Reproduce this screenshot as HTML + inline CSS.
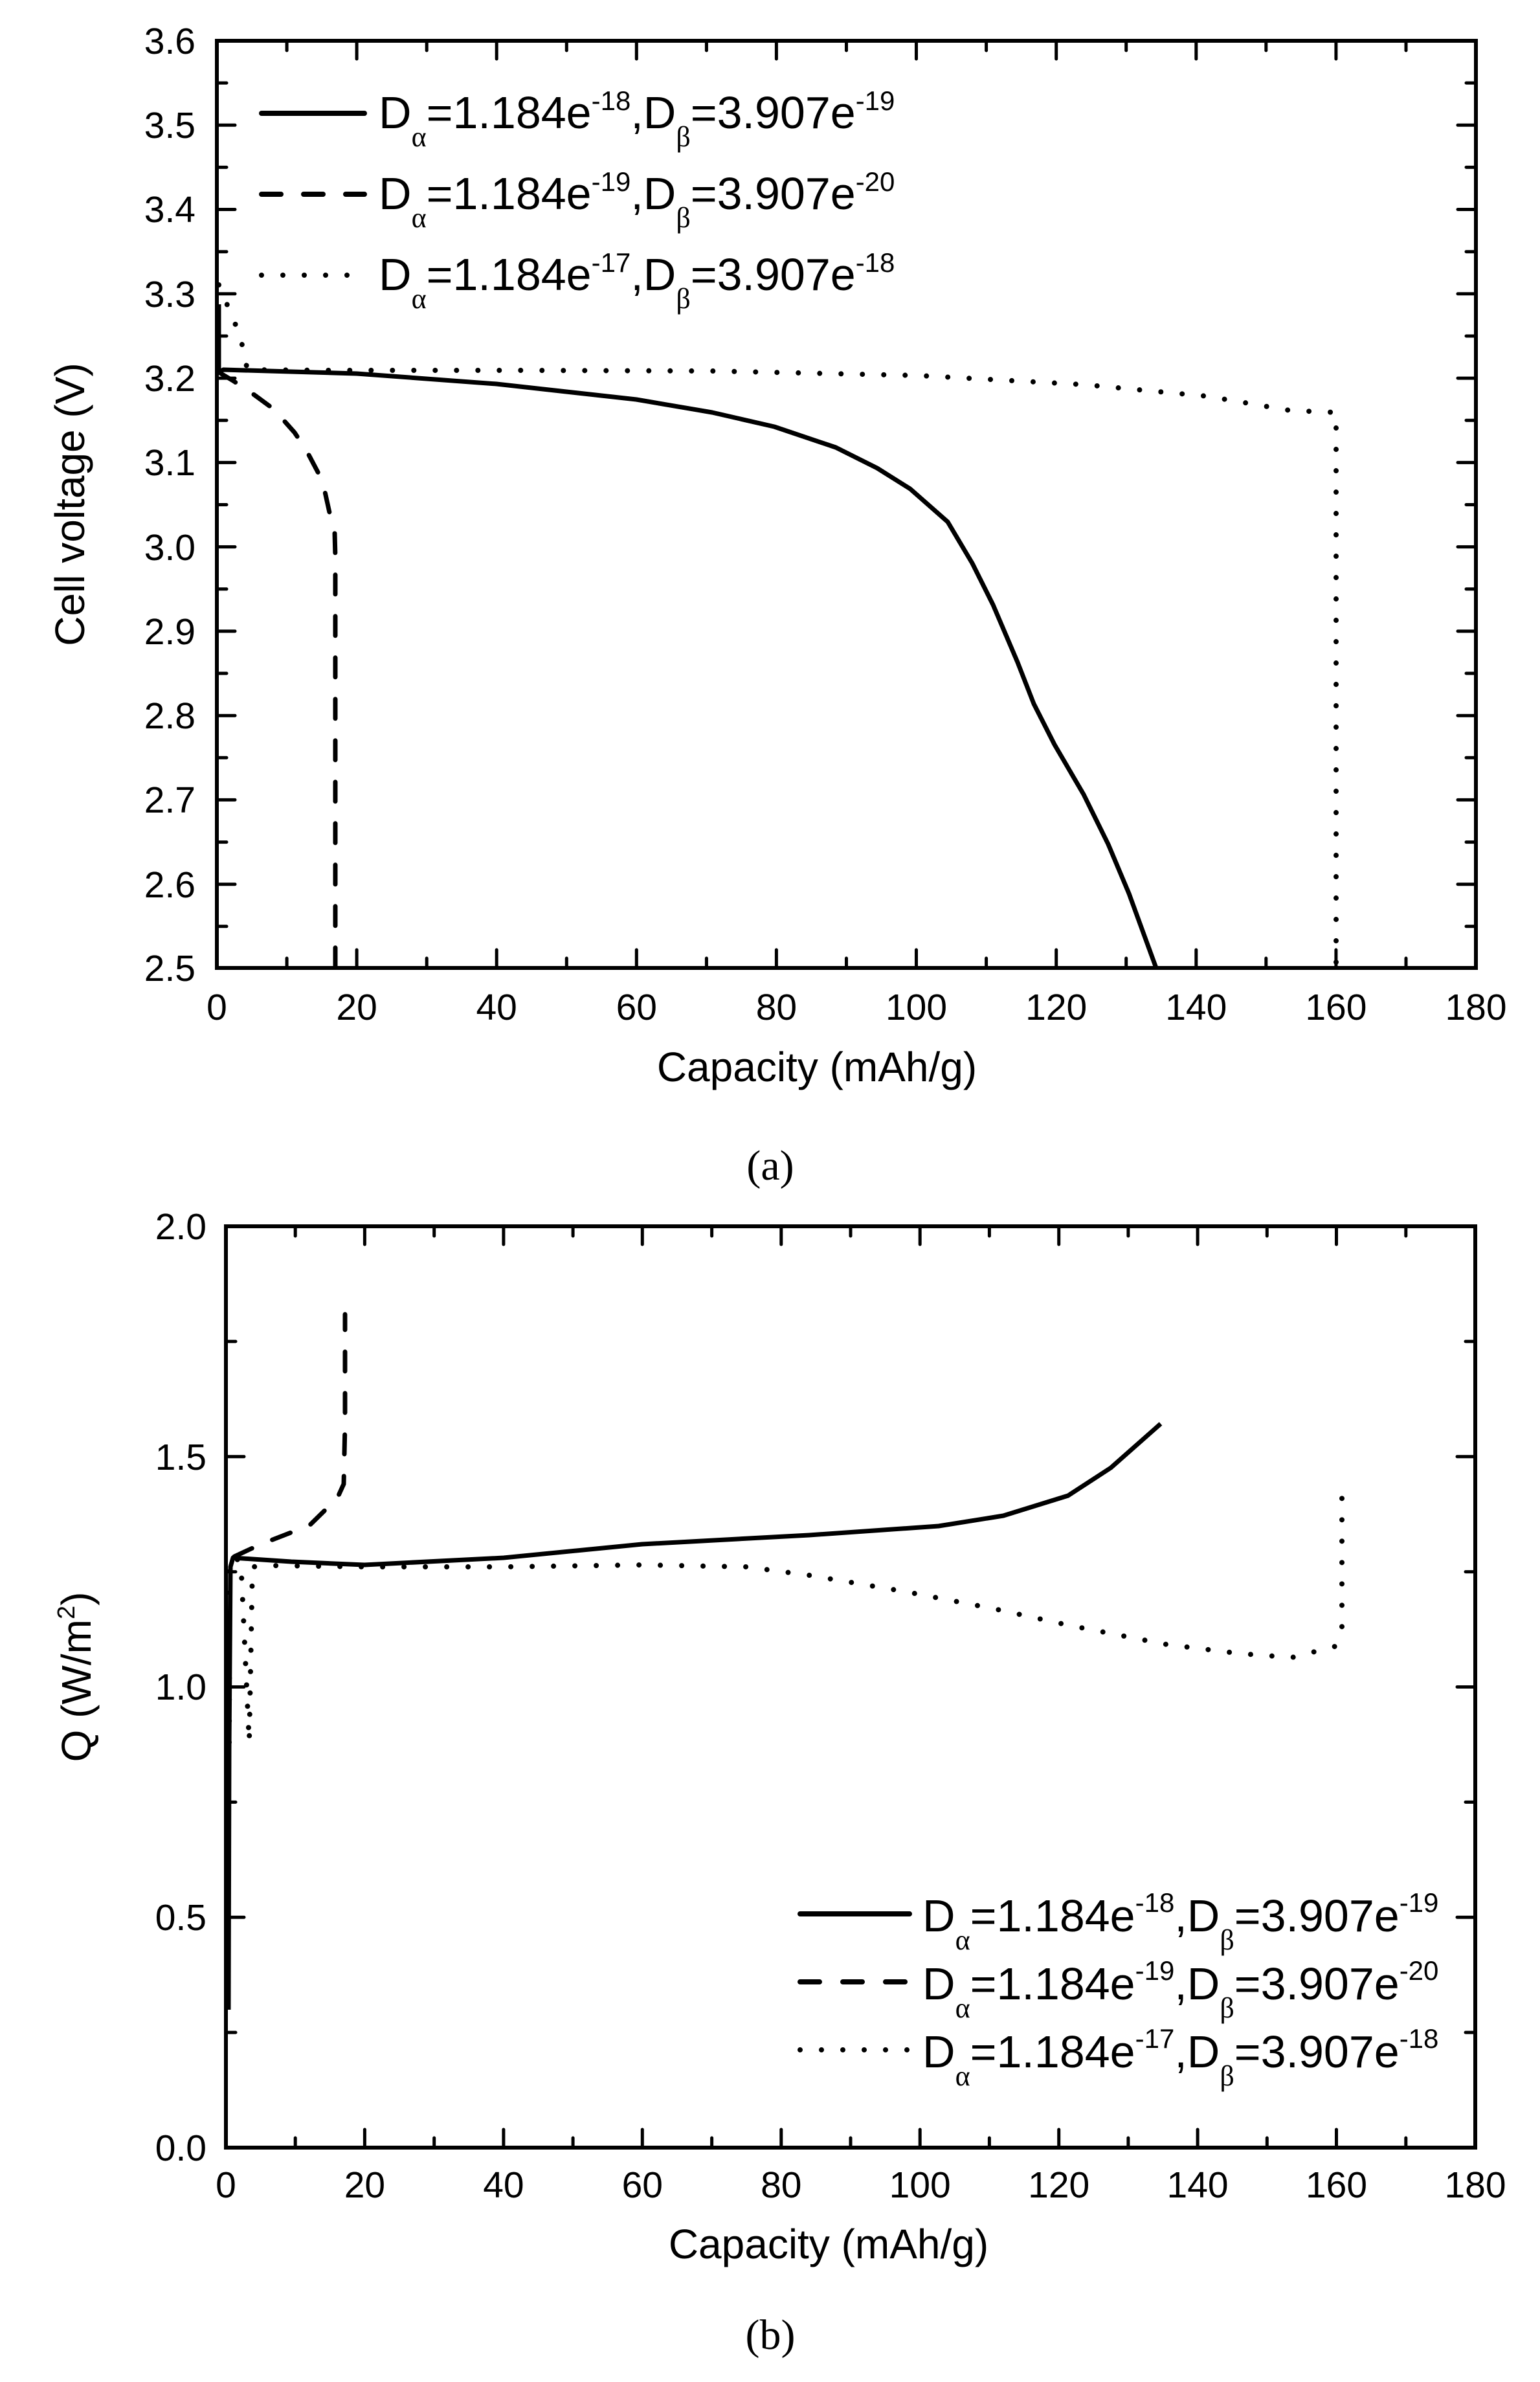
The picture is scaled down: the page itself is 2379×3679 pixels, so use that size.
<!DOCTYPE html>
<html><head><meta charset="utf-8"><style>
html,body{margin:0;padding:0;background:#fff}
svg{display:block}
text{font-family:"Liberation Sans",Arial,sans-serif;fill:#000}
.g{font-family:"Liberation Serif",serif}
</style></head><body>
<svg width="2379" height="3679" viewBox="0 0 2379 3679" xmlns="http://www.w3.org/2000/svg">
<rect width="2379" height="3679" fill="#fff"/>
<!-- ===== TOP PLOT ===== -->
<g stroke="#000" fill="none" stroke-linecap="round">
<rect x="335" y="63" width="1945" height="1432" stroke-width="6" stroke-linecap="butt"/>
<path stroke-width="5" d="
M551.1,1495v-28M767.2,1495v-28M983.3,1495v-28M1199.4,1495v-28M1415.5,1495v-28M1631.7,1495v-28M1847.8,1495v-28M2063.9,1495v-28
M443.1,1495v-15M659.2,1495v-15M875.3,1495v-15M1091.4,1495v-15M1307.5,1495v-15M1523.6,1495v-15M1739.7,1495v-15M1955.8,1495v-15M2172,1495v-15
M551.1,63v28M767.2,63v28M983.3,63v28M1199.4,63v28M1415.5,63v28M1631.7,63v28M1847.8,63v28M2063.9,63v28
M443.1,63v15M659.2,63v15M875.3,63v15M1091.4,63v15M1307.5,63v15M1523.6,63v15M1739.7,63v15M1955.8,63v15M2172,63v15
M335,193.3h28M335,323.5h28M335,453.8h28M335,584.1h28M335,714.4h28M335,844.6h28M335,974.9h28M335,1105.2h28M335,1235.4h28M335,1365.7h28
M335,128.1h15M335,258.4h15M335,388.7h15M335,519h15M335,649.2h15M335,779.5h15M335,909.8h15M335,1040h15M335,1170.3h15M335,1300.6h15M335,1430.8h15
M2280,193.3h-28M2280,323.5h-28M2280,453.8h-28M2280,584.1h-28M2280,714.4h-28M2280,844.6h-28M2280,974.9h-28M2280,1105.2h-28M2280,1235.4h-28M2280,1365.7h-28
M2280,128.1h-15M2280,258.4h-15M2280,388.7h-15M2280,519h-15M2280,649.2h-15M2280,779.5h-15M2280,909.8h-15M2280,1040h-15M2280,1170.3h-15M2280,1300.6h-15M2280,1430.8h-15
"/>
</g>
<g font-size="57" text-anchor="end">
<text x="302" y="83">3.6</text><text x="302" y="213">3.5</text><text x="302" y="343">3.4</text><text x="302" y="474">3.3</text><text x="302" y="604">3.2</text><text x="302" y="734">3.1</text><text x="302" y="865">3.0</text><text x="302" y="995">2.9</text><text x="302" y="1125">2.8</text><text x="302" y="1255">2.7</text><text x="302" y="1386">2.6</text><text x="302" y="1515">2.5</text>
</g>
<g font-size="57" text-anchor="middle">
<text x="335" y="1575">0</text><text x="551.1" y="1575">20</text><text x="767.2" y="1575">40</text><text x="983.3" y="1575">60</text><text x="1199.4" y="1575">80</text><text x="1415.5" y="1575">100</text><text x="1631.7" y="1575">120</text><text x="1847.8" y="1575">140</text><text x="2063.9" y="1575">160</text><text x="2280" y="1575">180</text>
</g>
<text x="1262" y="1670" font-size="64" text-anchor="middle">Capacity (mAh/g)</text>
<text transform="translate(130,779) rotate(-90)" font-size="64" text-anchor="middle">Cell voltage (V)</text>
<text x="1190" y="1822" font-size="66" text-anchor="middle" class="g">(a)</text>
<!-- legend top -->
<g stroke="#000" stroke-width="8" stroke-linecap="round">
<line x1="404" y1="175" x2="563" y2="175"/>
<line x1="404" y1="300" x2="563" y2="300" stroke-dasharray="30 35"/>
<line x1="404" y1="425" x2="563" y2="425" stroke-dasharray="0 33"/>
</g>
<g font-size="70">
<text x="585" y="198">D<tspan class="g" font-size="44" dy="28">α</tspan><tspan dy="-28">=1.184e</tspan><tspan font-size="42" dy="-28">-18</tspan><tspan dy="28">,D</tspan><tspan class="g" font-size="44" dy="28">β</tspan><tspan dy="-28">=3.907e</tspan><tspan font-size="42" dy="-28">-19</tspan></text>
<text x="585" y="323">D<tspan class="g" font-size="44" dy="28">α</tspan><tspan dy="-28">=1.184e</tspan><tspan font-size="42" dy="-28">-19</tspan><tspan dy="28">,D</tspan><tspan class="g" font-size="44" dy="28">β</tspan><tspan dy="-28">=3.907e</tspan><tspan font-size="42" dy="-28">-20</tspan></text>
<text x="585" y="448">D<tspan class="g" font-size="44" dy="28">α</tspan><tspan dy="-28">=1.184e</tspan><tspan font-size="42" dy="-28">-17</tspan><tspan dy="28">,D</tspan><tspan class="g" font-size="44" dy="28">β</tspan><tspan dy="-28">=3.907e</tspan><tspan font-size="42" dy="-28">-18</tspan></text>
</g>
<!-- curves top -->
<g fill="none" stroke="#000" stroke-width="7" stroke-linejoin="round">
<path d="M338,470 L338,575 L345,571 L551,577 L767,593 L983,617 L1100,637 L1196,659 L1291,691 L1355,723 L1406,755 L1464,806 L1502,870 L1534,934 L1572,1023 L1597,1087 L1629,1150 L1674,1227 L1712,1304 L1744,1380 L1786,1495"/>
<path d="M338,575 L360,588 L393,610 L423,632 L455,668 L473,695 L492,731 L502,760 L510,796 L517,823 L518,860 L518,1495" stroke-dasharray="30 34" stroke-linecap="round"/>
<path d="M338,440 L367,509 L375,536 L382,571 L500,572 L800,572 L1100,573 L1419,580 L1674,594 L1865,612 L1993,634 L2064,637 L2064,1495" stroke-dasharray="0 33" stroke-linecap="round" stroke-width="8"/>
</g>
<!-- ===== BOTTOM PLOT ===== -->
<g stroke="#000" fill="none" stroke-linecap="round">
<rect x="349" y="1894" width="1930" height="1423" stroke-width="6" stroke-linecap="butt"/>
<path stroke-width="5" d="
M563.4,3317v-28M777.9,3317v-28M992.3,3317v-28M1206.8,3317v-28M1421.2,3317v-28M1635.7,3317v-28M1850.1,3317v-28M2064.5,3317v-28
M456.2,3317v-15M670.7,3317v-15M885.1,3317v-15M1099.6,3317v-15M1314,3317v-15M1528.4,3317v-15M1742.9,3317v-15M1957.3,3317v-15M2171.8,3317v-15
M563.4,1894v28M777.9,1894v28M992.3,1894v28M1206.8,1894v28M1421.2,1894v28M1635.7,1894v28M1850.1,1894v28M2064.5,1894v28
M456.2,1894v15M670.7,1894v15M885.1,1894v15M1099.6,1894v15M1314,1894v15M1528.4,1894v15M1742.9,1894v15M1957.3,1894v15M2171.8,1894v15
M349,2249.75h28M349,2605.5h28M349,2961.25h28M349,2071.9h15M349,2427.6h15M349,2783.4h15M349,3139.1h15
M2279,2249.75h-28M2279,2605.5h-28M2279,2961.25h-28M2279,2071.9h-15M2279,2427.6h-15M2279,2783.4h-15M2279,3139.1h-15
"/>
</g>
<g font-size="57" text-anchor="end">
<text x="319" y="1914">2.0</text><text x="319" y="2270">1.5</text><text x="319" y="2625">1.0</text><text x="319" y="2981">0.5</text><text x="319" y="3337">0.0</text>
</g>
<g font-size="57" text-anchor="middle">
<text x="349" y="3394">0</text><text x="563.4" y="3394">20</text><text x="777.9" y="3394">40</text><text x="992.3" y="3394">60</text><text x="1206.8" y="3394">80</text><text x="1421.2" y="3394">100</text><text x="1635.7" y="3394">120</text><text x="1850.1" y="3394">140</text><text x="2064.5" y="3394">160</text><text x="2279" y="3394">180</text>
</g>
<text x="1280" y="3488" font-size="64" text-anchor="middle">Capacity (mAh/g)</text>
<text transform="translate(140,2590) rotate(-90)" font-size="64" text-anchor="middle">Q (W/m<tspan font-size="38" dy="-25">2</tspan><tspan dy="25">)</tspan></text>
<text x="1190" y="3628" font-size="66" text-anchor="middle" class="g">(b)</text>
<!-- legend bottom -->
<g stroke="#000" stroke-width="8" stroke-linecap="round">
<line x1="1236" y1="2956" x2="1405" y2="2956"/>
<line x1="1236" y1="3061" x2="1405" y2="3061" stroke-dasharray="30 36"/>
<line x1="1236" y1="3166" x2="1405" y2="3166" stroke-dasharray="0 33"/>
</g>
<g font-size="70">
<text x="1425" y="2983">D<tspan class="g" font-size="44" dy="28">α</tspan><tspan dy="-28">=1.184e</tspan><tspan font-size="42" dy="-30">-18</tspan><tspan dy="30">,D</tspan><tspan class="g" font-size="44" dy="28">β</tspan><tspan dy="-28">=3.907e</tspan><tspan font-size="42" dy="-30">-19</tspan></text>
<text x="1425" y="3088">D<tspan class="g" font-size="44" dy="28">α</tspan><tspan dy="-28">=1.184e</tspan><tspan font-size="42" dy="-30">-19</tspan><tspan dy="30">,D</tspan><tspan class="g" font-size="44" dy="28">β</tspan><tspan dy="-28">=3.907e</tspan><tspan font-size="42" dy="-30">-20</tspan></text>
<text x="1425" y="3193">D<tspan class="g" font-size="44" dy="28">α</tspan><tspan dy="-28">=1.184e</tspan><tspan font-size="42" dy="-30">-17</tspan><tspan dy="30">,D</tspan><tspan class="g" font-size="44" dy="28">β</tspan><tspan dy="-28">=3.907e</tspan><tspan font-size="42" dy="-30">-18</tspan></text>
</g>
<!-- curves bottom -->
<g fill="none" stroke="#000" stroke-width="7" stroke-linejoin="round">
<path d="M353,3104 L354,2700 L356,2420 L360,2406 L450,2412 L563,2417 L778,2406 L992,2385 L1250,2371 L1450,2357 L1550,2341 L1650,2310 L1716,2267 L1793,2199"/>
<path d="M362,2404 L403,2385 L478,2356 L521,2314 L531,2292 L533,2200 L533,2030" stroke-dasharray="30 34" stroke-linecap="round"/>
<path d="M354,2691 L355,2406 L372,2410 L385,2691 L390,2420 L420,2418 L563,2420 L778,2420 L992,2417 L1153,2420 L1250,2433 L1397,2458 L1537,2485 L1650,2510 L1803,2540 L1916,2554 L1996,2560 L2062,2543 L2073,2513 L2073,2285" stroke-dasharray="0 33" stroke-linecap="round" stroke-width="8"/>
</g>
</svg>
</body></html>
